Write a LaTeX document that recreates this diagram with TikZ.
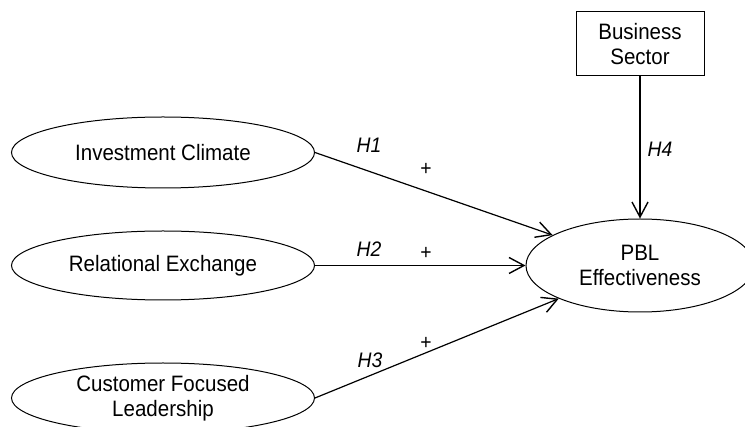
\documentclass[tikz,border=0pt]{standalone}
\usepackage{fontspec}
\setmainfont[FakeStretch=0.92]{Liberation Sans}
\usetikzlibrary{shapes.geometric,arrows.meta}
\begin{document}
\begin{tikzpicture}[x=1pt,y=-1pt,
  font=\fontsize{22.3pt}{25pt}\selectfont,
  latent/.style={draw,ellipse,line width=1pt,inner sep=0pt,align=center},
  obsbox/.style={draw,rectangle,line width=1pt,inner sep=0pt,align=center,minimum width=128pt,minimum height=64pt},
  path/.style={line width=1.2pt,-{Straight Barb[length=15pt,width=16pt,line width=1.4pt]}},
  hlab/.style={font=\fontsize{21pt}{24pt}\selectfont\itshape,inner sep=0pt},
  plab/.style={font=\fontsize{21pt}{24pt}\selectfont,inner sep=0pt}]
\clip (0,0) rectangle (745,427);
\fill[white] (0,0) rectangle (745,427);
\node[latent,minimum width=303pt,minimum height=71pt] (ic) at (163,152.5) {Investment Climate};
\node[latent,minimum width=303pt,minimum height=69pt] (re) at (163,265.5) {Relational Exchange};
\node[latent,minimum width=303pt,minimum height=70pt] (cfl) at (163,398) {Customer Focused\\Leadership};
\node[latent,minimum width=228pt,minimum height=93pt] (pbl) at (640,265.5) {PBL\\Effectiveness};
\node[obsbox] (bs) at (640,44) {Business\\Sector};
\draw[path] (ic.east) -- (pbl);
\draw[path] (re.east) -- (pbl.west);
\draw[path] (cfl.east) -- (pbl);
\draw[path] (bs.south) -- (pbl.north);
\node[hlab] (h1) at (369,145) {H1};
\node[plab] (p1) at (426,169) {+};
\node[hlab] (h2) at (369,249) {H2};
\node[plab] (p2) at (426,253) {+};
\node[hlab] (h3) at (370,360) {H3};
\node[plab] (p3) at (426,343) {+};
\node[hlab] (h4) at (660,149) {H4};
\end{tikzpicture}
\end{document}
